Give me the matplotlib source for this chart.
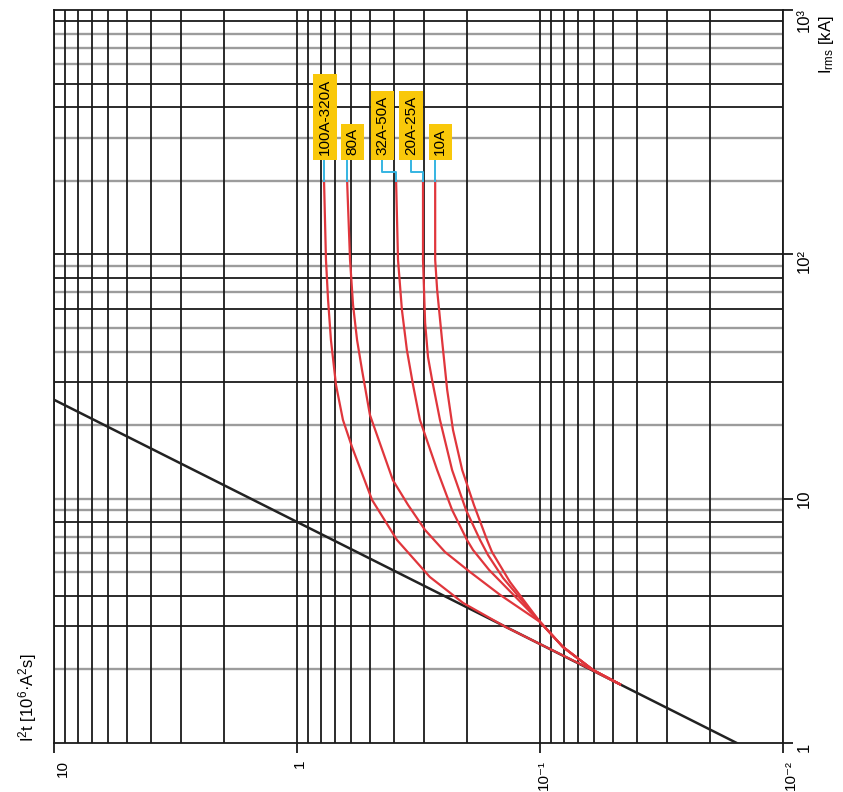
import matplotlib.pyplot as plt
from matplotlib.ticker import FixedLocator, NullFormatter, LogLocator

plt.rcParams['font.family'] = ['Liberation Sans', 'DejaVu Sans']
plt.rcParams['mathtext.default'] = 'regular'

# prospective I2t line (I2t in 10^6 A2s, Irms in kA)
line_i2t = [0.0155, 10.0]
line_irms = [1.0, 25.4]

# let-through curves
irms_100_320 = [200, 95, 65.1, 44.6, 29.2, 21.0, 16.3, 9.88, 6.78, 4.78, 3.74, 2.98, 1.99, 1.74]
i2t_100_320 = [0.774, 0.760, 0.745, 0.725, 0.691, 0.647, 0.594, 0.491, 0.388, 0.284, 0.207, 0.138, 0.061, 0.047]

irms_80 = [200, 95, 62.1, 44.6, 33.6, 22.0, 11.9, 9.42, 7.44, 6.05, 5.01, 4.04, 3.13, 2.47, 1.99, 1.74]
i2t_80 = [0.622, 0.605, 0.588, 0.566, 0.540, 0.501, 0.403, 0.349, 0.297, 0.246, 0.194, 0.146, 0.100, 0.0804, 0.0605, 0.0469]

irms_32_50 = [200, 95, 59.2, 40.6, 29.2, 21.0, 13.1, 8.99, 6.78, 6.17, 5.11, 3.13, 2.47, 1.99, 1.74]
i2t_32_50 = [0.391, 0.384, 0.370, 0.353, 0.333, 0.312, 0.265, 0.230, 0.1998, 0.1887, 0.162, 0.100, 0.0804, 0.0605, 0.0469]

irms_20_25 = [200, 95, 52.4, 38.0, 30.6, 21.0, 13.1, 8.99, 6.78, 5.88, 4.74, 3.13, 2.47, 1.99, 1.74]
i2t_20_25 = [0.303, 0.303, 0.297, 0.289, 0.278, 0.258, 0.230, 0.2016, 0.1765, 0.1637, 0.142, 0.100, 0.0804, 0.0605, 0.0469]

irms_10 = [200, 95, 71.5, 44.6, 27.9, 19.1, 13.1, 9.42, 6.78, 6.05, 4.56, 3.13, 2.47, 1.99, 1.74]
i2t_10 = [0.270, 0.270, 0.265, 0.253, 0.241, 0.228, 0.209, 0.187, 0.1652, 0.1576, 0.1329, 0.100, 0.0804, 0.0605, 0.0469]

curve_labels = ['100A-320A', '80A', '32A-50A', '20A-25A', '10A']
curves = [(i2t_100_320, irms_100_320), (i2t_80, irms_80), (i2t_32_50, irms_32_50),
          (i2t_20_25, irms_20_25), (i2t_10, irms_10)]

i2t_ticks = [10, 1, 0.1, 0.01]
i2t_ticklabels = ['10', '1', '10⁻¹', '10⁻²']
irms_ticks = [1, 10, 100, 1000]
irms_ticklabels = ['1', '10', '10²', '10³']

# label box offsets from curve top (pixels), tick label nudges, grid rows that print dark
box_dx = [1, 5, -14, -12, 5]
xlab_dx = [9, 3, 4, 8]
ylab_dy = [-4, 0, -7, -10]
dark_rows = [3, 4, 8, 30, 60, 80, 100, 400, 500, 900]

fig = plt.figure(figsize=(8.43, 7.92), dpi=100)
ax = fig.add_axes([54 / 843, 49 / 792, 729 / 843, 733 / 792])
ax.set_xscale('log')
ax.set_yscale('log')
ax.set_xlim(10, 0.01)
ax.set_ylim(1, 1000)

# grid
ax.xaxis.set_minor_locator(LogLocator(base=10, subs=range(2, 10)))
ax.xaxis.set_minor_formatter(NullFormatter())
ax.yaxis.set_minor_formatter(NullFormatter())
ax.xaxis.grid(True, which='both', color='#1a1a1a', lw=1.3, zorder=0)
for dec in [1, 10, 100]:
    for k in range(1, 10):
        v = dec * k
        if v == 1:
            continue
        dark = v in dark_rows
        ax.axhline(v, color='#1a1a1a' if dark else '#9c9c9c', lw=1.3 if dark else 1.7, zorder=0)
ax.set_axisbelow(True)

for s in ax.spines.values():
    s.set_color('#1a1a1a')
    s.set_linewidth(1.3)

ax.xaxis.set_major_locator(FixedLocator(i2t_ticks))
ax.yaxis.tick_right()
ax.yaxis.set_major_locator(FixedLocator(irms_ticks))
ax.tick_params(which='major', direction='out', length=7, width=1.3, color='#1a1a1a',
               labelbottom=False, labelright=False)
ax.tick_params(which='minor', length=0)

for v, lab, dx in zip(i2t_ticks, i2t_ticklabels, xlab_dx):
    ax.annotate(lab, xy=(v, 0), xycoords=('data', 'axes fraction'), xytext=(dx, -17),
                textcoords='offset pixels', rotation=90, ha='center', va='top', fontsize=11)
for v, lab, dy in zip(irms_ticks, irms_ticklabels, ylab_dy):
    ax.annotate(lab, xy=(1, v), xycoords=('axes fraction', 'data'), xytext=(14, dy),
                textcoords='offset pixels', rotation=90, ha='left', va='center', fontsize=12)

ax.plot(line_i2t, line_irms, color='#222222', lw=1.8, zorder=3)

for (xs, ys) in curves:
    ax.plot(xs, ys, color='#e0363c', lw=1.6, zorder=4)

# labels with leader lines
fig.canvas.draw()
to_disp = ax.transData
to_data = ax.transData.inverted()
for lab, (xs, ys), dx in zip(curve_labels, curves, box_dx):
    x0, y0 = to_disp.transform((xs[0], ys[0]))
    if abs(dx) > 8:
        pts = [(x0, y0), (x0, y0 + 9), (x0 + dx, y0 + 9), (x0 + dx, y0 + 21)]
    else:
        pts = [(x0, y0), (x0, y0 + 21)]
    dpts = to_data.transform(pts)
    ax.plot(dpts[:, 0], dpts[:, 1], color='#35b4e2', lw=1.4, zorder=5, clip_on=False)
    ax.annotate(lab, xy=(xs[0], ys[0]), xytext=(dx, 25.5), textcoords='offset pixels',
                rotation=90, ha='center', va='bottom', fontsize=11, zorder=6,
                bbox=dict(boxstyle='square,pad=0.3', fc='#f9c80a', ec='none'))

fig.text(28 / 843, 1 - 698 / 792, 'I$^2$t [10$^6$·A$^2$s]', rotation=90,
         ha='center', va='center', fontsize=12)
fig.text(826 / 843, 1 - 45 / 792, 'I$_{rms}$ [kA]', rotation=90,
         ha='center', va='center', fontsize=12)

fig.savefig('out.png', dpi=100)
